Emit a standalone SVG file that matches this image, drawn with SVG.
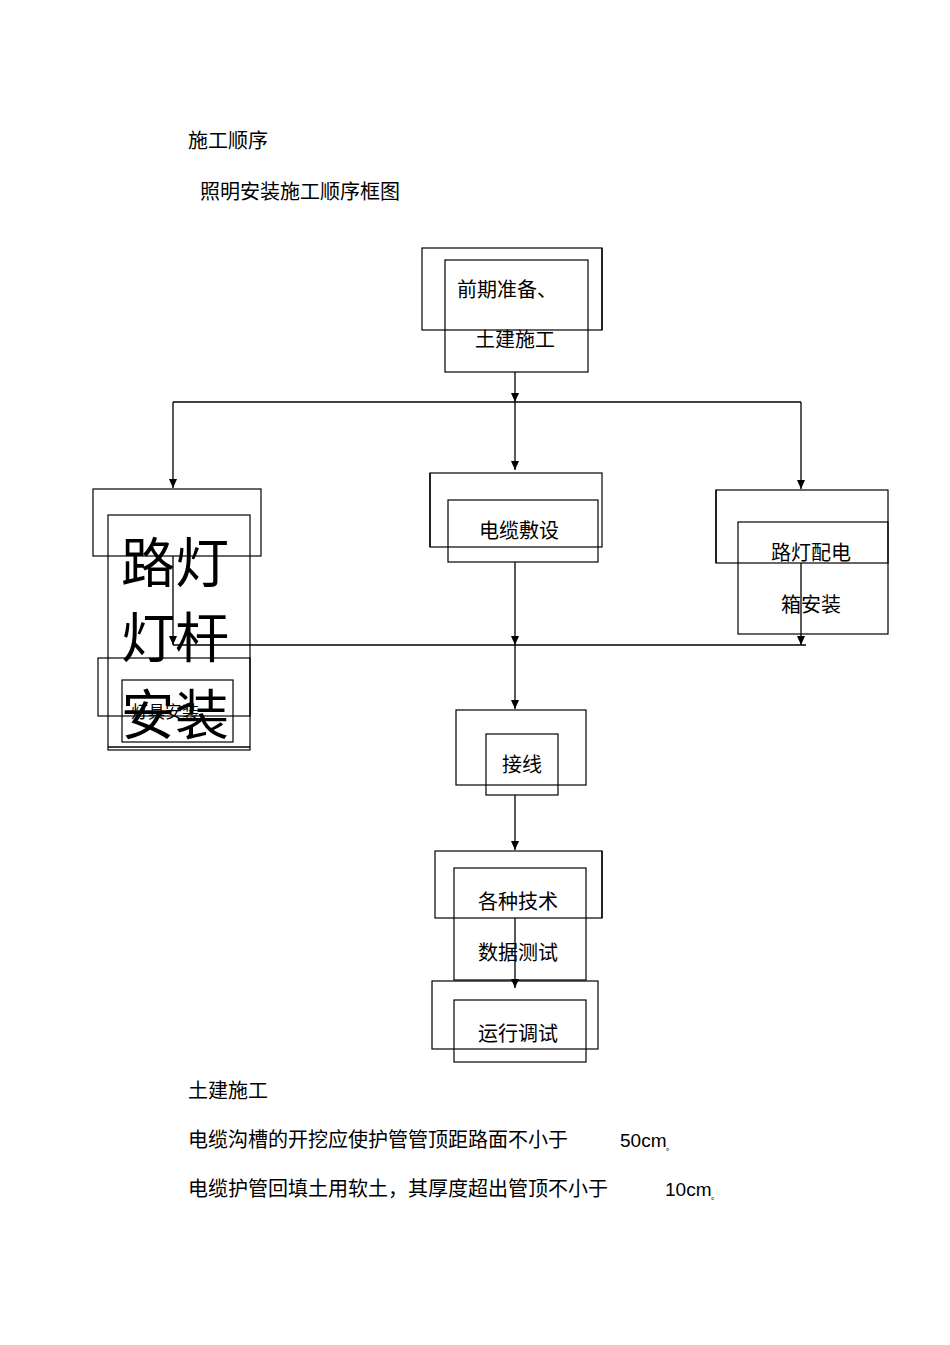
<svg xmlns="http://www.w3.org/2000/svg" width="950" height="1345" viewBox="0 0 950 1345">
<style>
text{font-family:"Liberation Serif","Noto Sans CJK SC",serif;font-size:20px;fill:#000}
.c{text-anchor:middle}
.s{font-family:"Liberation Sans","Noto Sans CJK SC",sans-serif;font-size:19px}
rect{fill:none;stroke:#000;stroke-width:1.2}
rect.bg{fill:#fff;stroke:none}
line,path{stroke:#000;stroke-width:1.3;fill:none}
path.h{fill:#000;stroke:none}
</style>
<defs><marker id="a" markerWidth="10" markerHeight="10" refX="9" refY="5" orient="auto" markerUnits="userSpaceOnUse"><path class="h" d="M0,1 L9,5 L0,9z"/></marker></defs>
<rect class="bg" width="950" height="1345"/>
<text x="188" y="148">施工顺序</text>
<text x="200" y="199">照明安装施工顺序框图</text>
<g id="connectors">
<line x1="515" y1="372" x2="515" y2="402" marker-end="url(#a)"/>
<line x1="515" y1="402" x2="515" y2="470" marker-end="url(#a)"/>
<line x1="173" y1="402" x2="801" y2="402"/>
<line x1="173" y1="402" x2="173" y2="488" marker-end="url(#a)"/>
<line x1="801" y1="402" x2="801" y2="489" marker-end="url(#a)"/>
<line x1="173" y1="556" x2="173" y2="645" marker-end="url(#a)"/>
<line x1="173" y1="645" x2="806" y2="645"/>
<line x1="801" y1="563" x2="801" y2="645" marker-end="url(#a)"/>
<line x1="515" y1="562" x2="515" y2="645" marker-end="url(#a)"/>
<line x1="515" y1="645" x2="515" y2="709" marker-end="url(#a)"/>
<line x1="515" y1="795" x2="515" y2="850" marker-end="url(#a)"/>
<line x1="515" y1="918" x2="515" y2="988" marker-end="url(#a)"/>
</g>
<g id="n1"><rect x="422" y="248" width="180" height="82"/><line x1="602" y1="248" x2="602" y2="330" stroke-width="2.5"/><rect x="445" y="260" width="143" height="112"/>
<text class="c" x="507" y="297">前期准备、</text><text class="c" x="515" y="347">土建施工</text></g>
<g id="n2"><rect x="430" y="473" width="172" height="74"/><line x1="430" y1="473" x2="430" y2="547" stroke-width="2.5"/><rect x="448" y="500" width="150" height="62"/><text class="c" x="519" y="538">电缆敷设</text></g>
<g id="n3"><rect x="716" y="490" width="172" height="73"/><line x1="716" y1="490" x2="716" y2="563" stroke-width="2.5"/><rect x="738" y="522" width="150" height="112"/><text class="c" x="811" y="560">路灯配电</text><text class="c" x="811" y="612">箱安装</text></g>
<g id="n4"><rect x="93" y="489" width="168" height="67"/><rect x="108" y="515" width="142" height="235"/><line x1="108" y1="747" x2="250" y2="747"/>
<rect x="98" y="658" width="152" height="58"/><rect x="122" y="680" width="111" height="62"/>
<text class="c" x="165" y="718" style="font-size:17px">灯具安装</text>
<text class="c" x="175" y="583" style="font-size:54px">路灯</text><text class="c" x="175" y="658" style="font-size:54px">灯杆</text><text class="c" x="175" y="735" style="font-size:54px">安装</text></g>
<g id="n5"><rect x="456" y="710" width="130" height="75"/><rect x="486" y="734" width="72" height="61"/><text class="c" x="522" y="772">接线</text></g>
<g id="n6"><rect x="435" y="851" width="167" height="67"/><line x1="602" y1="851" x2="602" y2="918" stroke-width="2.5"/><rect x="454" y="868" width="132" height="112"/><text class="c" x="518" y="909">各种技术</text><text class="c" x="518" y="960">数据测试</text></g>
<g id="n7"><rect x="432" y="981" width="166" height="68"/><rect x="454" y="1000" width="132" height="62"/><text class="c" x="518" y="1041">运行调试</text></g>
<text x="188" y="1098">土建施工</text>
<text x="188" y="1147">电缆沟槽的开挖应使护管管顶距路面不小于</text>
<text class="s" x="620" y="1147">50cm</text><text class="s" x="666" y="1150" style="font-size:8px">。</text>
<text x="188" y="1196">电缆护管回填土用软土，其厚度超出管顶不小于</text>
<text class="s" x="665" y="1196">10cm</text><text class="s" x="711" y="1199" style="font-size:8px">。</text>
</svg>
